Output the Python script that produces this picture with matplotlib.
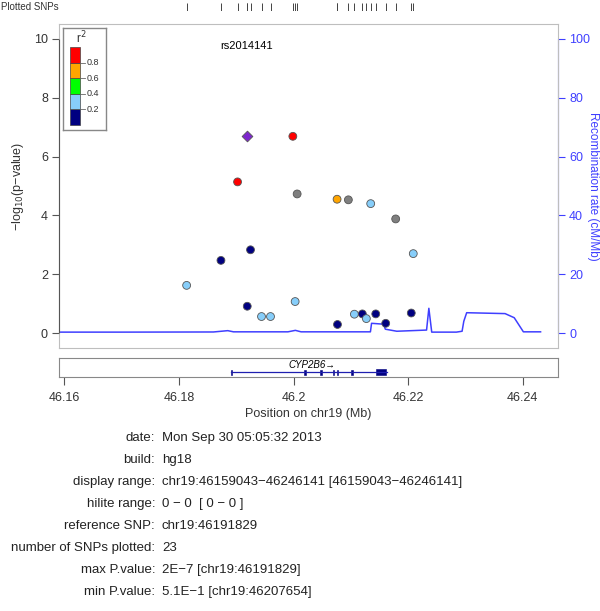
import numpy as np
import matplotlib.pyplot as plt
from matplotlib.patches import Rectangle

plt.rcParams['font.family'] = ['Liberation Sans', 'DejaVu Sans']

# SNPs: position (Mb), -log10(p), r2 with reference SNP (nan = no LD info)
snp_pos = [46.19183, 46.19986, 46.19021, 46.20061, 46.20758, 46.20955, 46.21345,
           46.21781, 46.19247, 46.18731, 46.22088, 46.18132, 46.19190, 46.20026,
           46.19439, 46.19596, 46.20765, 46.21060, 46.21199, 46.21269, 46.21433,
           46.21607, 46.22053]
snp_logp = [6.70, 6.69, 5.14, 4.73, 4.55, 4.53, 4.40, 3.88, 2.83, 2.47, 2.70, 1.62,
            0.91, 1.07, 0.56, 0.56, 0.29, 0.64, 0.65, 0.49, 0.65, 0.33, 0.68]
snp_r2 = [1.0, 0.88, 0.85, np.nan, 0.7, np.nan, 0.3, np.nan, 0.1, 0.1, 0.3, 0.3,
          0.1, 0.3, 0.3, 0.3, 0.1, 0.3, 0.1, 0.3, 0.1, 0.1, 0.1]
ref_snp = "rs2014141"

# recombination rate (cM/Mb)
recomb_pos = [46.1590, 46.1700, 46.1860, 46.1885, 46.1895, 46.1990, 46.2003, 46.2013,
              46.2134, 46.2136, 46.2157, 46.2160, 46.2180, 46.2232, 46.2236, 46.2241,
              46.2284, 46.2294, 46.2297, 46.2302, 46.2369, 46.2385, 46.2401, 46.2431]
recomb_rate = [0.3, 0.3, 0.35, 0.8, 0.4, 0.4, 0.9, 0.4,
               0.4, 3.3, 3.0, 1.3, 0.6, 1.0, 8.4, 0.3,
               0.3, 0.6, 4.0, 6.9, 6.6, 5.2, 0.4, 0.4]

# gene CYP2B6
gene_name = "CYP2B6"
gene_start, gene_end = 46.18911, 46.21624
exon_start = [46.18905, 46.20185, 46.20465, 46.20680, 46.20755, 46.21005, 46.21435]
exon_end = [46.18925, 46.20215, 46.20490, 46.20700, 46.20775, 46.21040, 46.21620]

ld_breaks = [0.0, 0.2, 0.4, 0.6, 0.8, 1.0]
ld_colors = ["#000080", "#87CEFA", "#00FF00", "#FFA500", "#FF0000"]
ld_missing = "#7F7F7F"
ref_color = "#7D26CD"

xticks = [46.16, 46.18, 46.2, 46.22, 46.24]
xticklabels = ["46.16", "46.18", "46.2", "46.22", "46.24"]

info_labels = ["date:", "build:", "display range:", "hilite range:", "reference SNP:",
               "number of SNPs plotted:", "max P.value:", "min P.value:"]
info_values = ["Mon Sep 30 05:05:32 2013", "hg18",
               "chr19:46159043\u221246246141 [46159043\u221246246141]",
               "0 \u2212 0  [ 0 \u2212 0 ]", "chr19:46191829", "23",
               "2E\u22127 [chr19:46191829]", "5.1E\u22121 [chr19:46207654]"]

xmin, xmax = 46.159043, 46.246141
W, H = 600, 611
txt = "#333333"
frame = "#BEBEBE"
blue = "#3F3FFF"


def fx(px):
    return px / W


def fy(py):
    return 1 - py / H


def ld_color(r):
    if np.isnan(r):
        return ld_missing
    for i in range(len(ld_colors)):
        if r <= ld_breaks[i + 1]:
            return ld_colors[i]
    return ld_colors[-1]


fig = plt.figure(figsize=(6, 6.11), dpi=100)

# main panel
ax = fig.add_axes([fx(59), fy(348), fx(558 - 59), (348 - 24) / H])
ax.set_xlim(xmin, xmax)
ax.set_ylim(-0.51, 10.51)
for s in ax.spines.values():
    s.set_color(frame)
ax.set_xticks([])
ax.set_yticks([0, 2, 4, 6, 8, 10])
ax.tick_params(axis='y', colors='#555555', labelcolor=txt, labelsize=9, length=5, pad=3)
ax.vlines(xmin, 0, 10, color='#555555', lw=0.8, clip_on=False, zorder=3)
ax.set_ylabel("\u2212log$_{10}$(p\u2212value)", color=txt, fontsize=9, labelpad=6)

ax2 = ax.twinx()
ax2.set_ylim(-5.1, 105.1)
ax2.set_yticks([0, 20, 40, 60, 80, 100])
for k in ['top', 'left', 'bottom']:
    ax2.spines[k].set_visible(False)
ax2.spines['right'].set_color(blue)
ax2.spines['right'].set_bounds(0, 100)
ax2.tick_params(axis='y', colors=blue, labelsize=9, length=5, pad=3)
ax2.set_ylabel("Recombination rate (cM/Mb)", color=blue, fontsize=8.5,
               rotation=270, va='center')
ax2.yaxis.set_label_coords((593 - 59) / 499, 0.5)
ax2.plot(recomb_pos, recomb_rate, color=blue, lw=1.1, zorder=1)

ax.set_zorder(ax2.get_zorder() + 1)
ax.patch.set_visible(False)

cols = [ld_color(r) for r in snp_r2]
ax.scatter(snp_pos[1:], snp_logp[1:], c=cols[1:], s=32, edgecolors='#555555',
           linewidths=0.6, zorder=4)
ax.scatter(snp_pos[:1], snp_logp[:1], c=ref_color, marker='D', s=30,
           edgecolors='#555555', linewidths=0.6, zorder=5)
ax.text(snp_pos[0], 9.75, ref_snp, ha='center', va='center', fontsize=8, color='black')

# LD legend
lg = fig.add_axes([fx(63), fy(130), fx(106 - 63), (130 - 28) / H])
lg.set_xlim(0, 1)
lg.set_ylim(0, 1)
lg.set_xticks([])
lg.set_yticks([])
for s in lg.spines.values():
    s.set_color('#888888')
    s.set_linewidth(1)
y0, y1 = 0.05, 0.81
cell = (y1 - y0) / len(ld_colors)
for i, c in enumerate(ld_colors):
    lg.add_patch(Rectangle((0.165, y0 + i * cell), 0.23, cell, facecolor=c,
                           edgecolor='#444444', lw=0.5))
for i, b in enumerate(ld_breaks[1:-1]):
    yy = y0 + (i + 1) * cell
    lg.plot([0.395, 0.5], [yy, yy], color='#666666', lw=0.6)
    lg.text(0.55, yy, "%.1f" % b, fontsize=6.5, color=txt, va='center', ha='left')
lg.text(0.42, 0.9, "r$^2$", fontsize=8.5, color=txt, ha='center', va='center')

# gene track
ag = fig.add_axes([fx(59), fy(377), fx(558 - 59), (377 - 358) / H])
ag.set_xlim(xmin, xmax)
ag.set_ylim(0, 1)
for s in ag.spines.values():
    s.set_color('#888888')
ag.set_yticks([])
ag.set_xticks(xticks)
ag.set_xticklabels(xticklabels)
ag.tick_params(axis='x', colors='#555555', labelcolor=txt, labelsize=9, length=6, pad=5)
ag.set_xlabel("Position on chr19 (Mb)", color=txt, fontsize=9, labelpad=3)
ag.plot([gene_start, gene_end], [0.26, 0.26], color='#1F1FB0', lw=0.9)
for a, b in zip(exon_start, exon_end):
    hgt = 0.34 if b - a > 0.001 else 0.26
    ag.add_patch(Rectangle((a, 0.26 - hgt / 2), b - a, hgt, facecolor='#000080',
                           edgecolor='#000080', lw=0.4))
ag.text((gene_start + gene_end) / 2 + 0.0005, 0.62, gene_name + "\u2192",
        style='italic', fontsize=7, ha='center', va='center', color='black')

# plotted SNPs rug
ar = fig.add_axes([fx(59), fy(11), fx(558 - 59), 8 / H])
ar.set_xlim(xmin, xmax)
ar.set_ylim(0, 1)
ar.axis('off')
ar.vlines(snp_pos, 0, 1, color='#444444', lw=0.7)
fig.text(fx(1), fy(7), "Plotted SNPs", fontsize=7, color=txt, ha='left', va='center')

# run info
for i, (l, v) in enumerate(zip(info_labels, info_values)):
    yy = fy(438 + 22 * i)
    fig.text(fx(155), yy, l, ha='right', va='center', fontsize=9.5, color='#222222')
    fig.text(fx(162), yy, v, ha='left', va='center', fontsize=9.5, color='#222222')

plt.savefig("out.png", dpi=100)
